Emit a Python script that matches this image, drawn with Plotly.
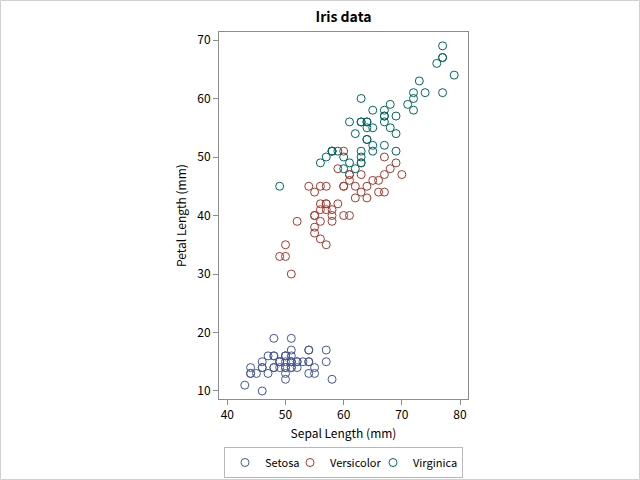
import plotly.graph_objects as go

setosa_sepal = [51,49,47,46,50,54,46,50,44,49,54,48,48,43,58,57,54,51,57,51,54,51,46,51,48,50,50,52,52,47,48,54,52,55,49,50,55,49,44,51,50,45,44,50,51,48,51,46,53,50]
setosa_petal = [14,14,13,15,14,17,14,15,14,15,15,16,14,11,12,15,13,14,17,15,17,15,10,17,19,16,16,15,14,16,16,15,15,14,15,12,13,15,13,15,13,13,13,16,19,14,16,14,15,14]
versicolor_sepal = [70,64,69,55,65,57,63,49,66,52,50,59,60,61,56,67,56,58,62,56,59,61,63,61,64,66,68,67,60,57,55,55,58,60,54,60,67,63,56,55,55,61,58,50,56,57,57,62,51,57]
versicolor_petal = [47,45,49,40,46,45,47,33,46,39,35,42,40,47,36,44,45,41,45,39,48,40,49,47,43,44,48,50,45,35,38,37,39,51,45,45,47,44,41,40,44,46,40,33,42,42,42,43,30,41]
virginica_sepal = [63,58,71,63,65,76,49,73,67,72,65,64,68,57,58,64,65,77,77,60,69,56,77,63,67,72,62,61,64,72,74,79,64,63,61,77,63,64,60,69,67,69,58,68,67,67,63,65,62,59]
virginica_petal = [60,51,59,56,58,66,45,63,58,61,51,53,55,50,51,53,55,67,69,50,57,49,67,49,57,60,48,49,56,58,61,64,56,51,56,61,56,55,48,54,56,51,51,59,57,52,50,52,54,51]

species = ["Setosa", "Versicolor", "Virginica"]
xs = [setosa_sepal, versicolor_sepal, virginica_sepal]
ys = [setosa_petal, versicolor_petal, virginica_petal]
colors = ["#445694", "#A23A2E", "#01665E"]
legend_widths = [20, 38, 44]

FONT = "Noto Sans CJK JP"

fig = go.Figure()
for name, x, y, c, lw in zip(species, xs, ys, colors, legend_widths):
    fig.add_trace(go.Scatter(
        x=x, y=y, mode="markers", name=name, legendwidth=lw,
        marker=dict(symbol="circle-open", size=8, color=c, line=dict(width=1, color=c)),
    ))

L, R, T, B = 219, 172, 32, 81
W, H = 640 - L - R, 480 - T - B

axis_common = dict(
    showgrid=False, zeroline=False, showline=True, linecolor="#8c8c8c", linewidth=1,
    mirror=True, ticks="outside", ticklen=5, tickcolor="#8c8c8c",
    tickfont=dict(size=12, color="#000000", family=FONT),
)

fig.update_layout(
    width=640, height=480,
    margin=dict(l=L, r=R, t=T, b=B, autoexpand=False),
    paper_bgcolor="white", plot_bgcolor="white",
    font=dict(family=FONT, color="#000000"),
    title=dict(text="<b>Iris data</b>", x=(L + W / 2) / 640, xanchor="center",
               y=1 - 17 / 480, yanchor="middle", font=dict(size=14, family=FONT)),
    xaxis=dict(range=[38.57, 81.37], tickvals=[40, 50, 60, 70, 80],
               title=dict(text="Sepal Length (mm)", font=dict(size=12, family=FONT), standoff=8),
               **axis_common),
    yaxis=dict(range=[8.63, 71.37], tickvals=[10, 20, 30, 40, 50, 60, 70],
               title=dict(text="Petal Length (mm)", font=dict(size=12, family=FONT), standoff=8),
               **axis_common),
    legend=dict(orientation="h", x=0.5, xanchor="center", y=-(447 - 399) / H, yanchor="top",
                bordercolor="#b8b8b8", borderwidth=1, font=dict(size=11, family=FONT),
                itemwidth=30, tracegroupgap=0, entrywidthmode="pixels"),
    showlegend=True,
    shapes=[dict(type="rect", xref="paper", yref="paper",
                 x0=-L / W + 0.5 / W, x1=(640 - L) / W - 0.5 / W,
                 y0=-B / H + 0.5 / H, y1=(480 - B) / H - 0.5 / H,
                 line=dict(color="#d0d0d0", width=1), fillcolor="rgba(0,0,0,0)", layer="below")],
)

fig.write_html("out.html", config={"displayModeBar": False},
               post_script="document.body.style.margin='0';")
